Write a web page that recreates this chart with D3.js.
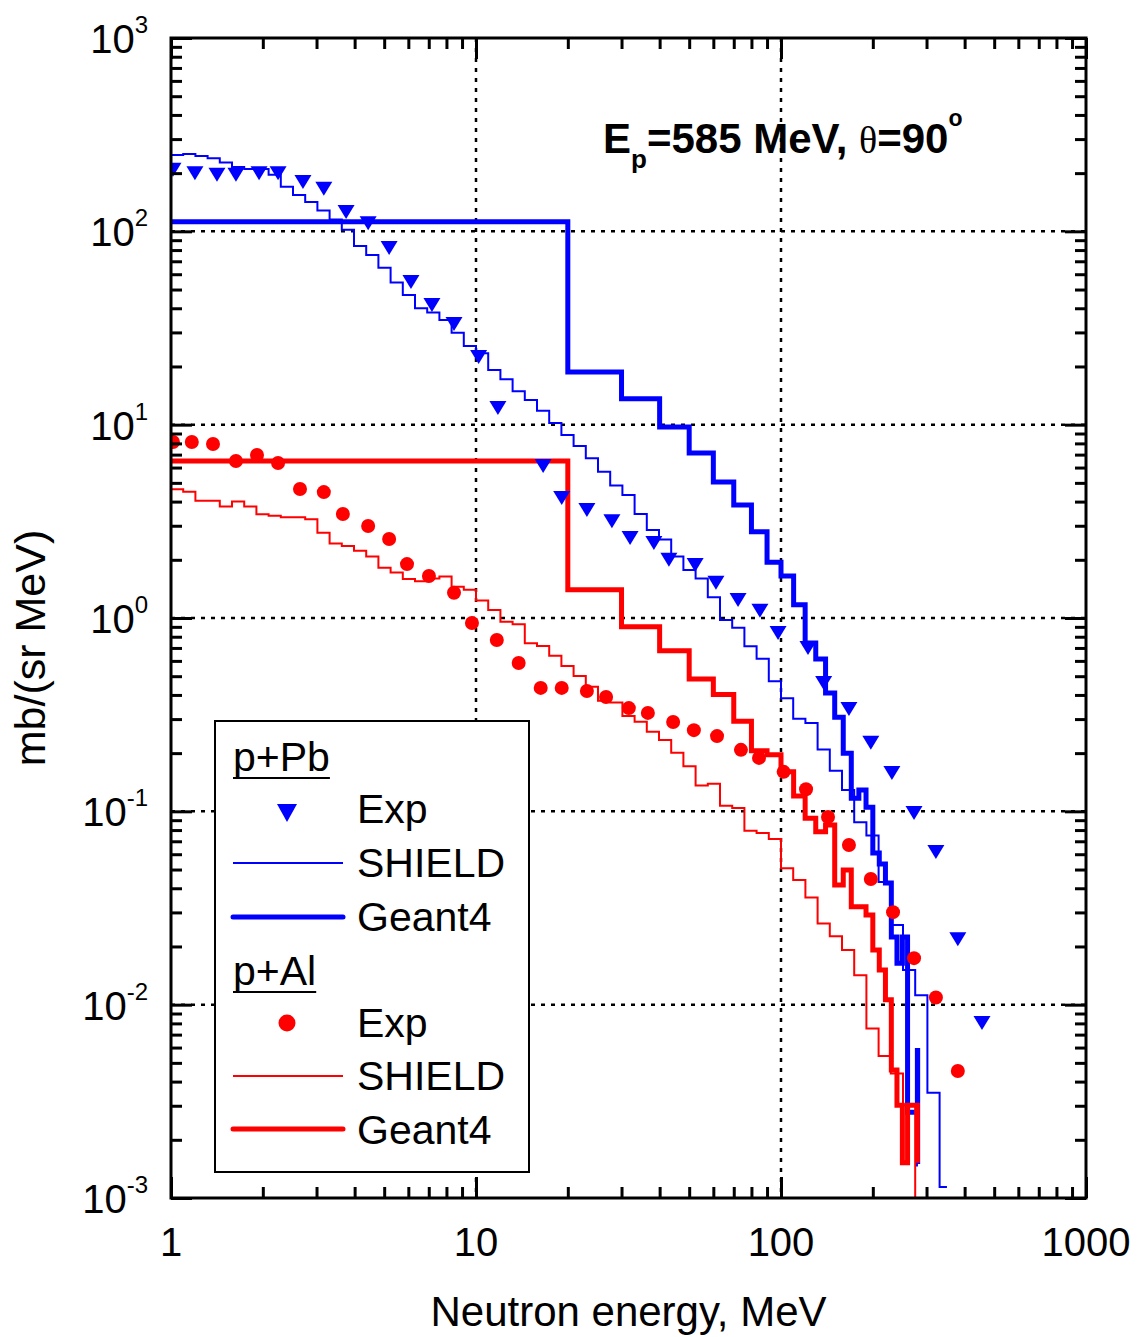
<!DOCTYPE html>
<html>
<head>
<meta charset="utf-8">
<script src="https://cdn.jsdelivr.net/npm/d3@7"></script>
<style>
  body { margin: 0; background: #fff; }
  text { font-family: "Liberation Sans", Arial, sans-serif; }
</style>
</head>
<body>
<svg></svg>
<script>
// SHIELD bin edges (MeV), 25 bins per decade
let shieldEdges = [1, 1.0965, 1.2023, 1.3183, 1.4454, 1.5849, 1.7378, 1.9055, 2.0893, 2.2909,
  2.5119, 2.7542, 3.02, 3.3113, 3.6308, 3.9811, 4.3652, 4.7863, 5.2481, 5.7544,
  6.3096, 6.9183, 7.5858, 8.3176, 9.1201, 10, 10.965, 12.023, 13.183, 14.454,
  15.849, 17.378, 19.055, 20.893, 22.909, 25.119, 27.542, 30.2, 33.113, 36.308,
  39.811, 43.652, 47.863, 52.481, 57.544, 63.096, 69.183, 75.858, 83.176, 91.201,
  100, 109.65, 120.23, 131.83, 144.54, 158.49, 173.78, 190.55, 208.93, 229.09,
  251.19, 275.42, 302.0, 331.13]
let pbShieldEnd = 350
let alShieldEnd = 275.42

let pbShield = [248, 251, 245, 239, 227, 215, 210, 210, 196, 170,
  154, 142, 128, 115, 102, 84.0, 75.5, 64.9, 54.3, 46.9,
  40.0, 38.0, 34.8, 29.9, 25.5, 23.4, 19.2, 17.2, 14.9, 13.4,
  11.8, 10.2, 8.85, 7.76, 6.70, 5.71, 4.84, 4.33, 3.45, 2.85,
  2.55, 2.08, 1.77, 1.60, 1.28, 0.976, 0.890, 0.714, 0.615, 0.471,
  0.384, 0.301, 0.286, 0.209, 0.162, 0.129, 0.0878, 0.0749, 0.0431, 0.0258,
  0.0151, 0.0112, 0.0035, 0.00114]

let alShield = [4.63, 4.50, 4.04, 4.04, 3.77, 4.00, 3.77, 3.44, 3.38, 3.32,
  3.32, 3.24, 2.76, 2.43, 2.36, 2.23, 2.08, 1.82, 1.72, 1.59,
  1.55, 1.60, 1.64, 1.45, 1.40, 1.23, 1.10, 0.957, 0.928, 0.740,
  0.716, 0.638, 0.565, 0.501, 0.441, 0.373, 0.365, 0.311, 0.291, 0.258,
  0.234, 0.201, 0.171, 0.136, 0.139, 0.107, 0.104, 0.0793, 0.0772, 0.0719,
  0.0507, 0.0441, 0.0358, 0.0263, 0.0226, 0.0192, 0.0142, 0.00754, 0.00542, 0.00441,
  0.00302]

// Geant4 step points (value holds from this energy to the next one)
let pbG4E = [1, 20, 30, 40, 50, 60, 70, 80, 90, 100, 110, 120, 130, 140, 150, 160, 170, 180, 190,
  200, 210, 220, 230, 240, 250, 260, 280, 280.6, 281.2]
let pbG4V = [112, 18.7, 13.6, 9.73, 7.14, 5.05, 3.84, 2.79, 1.94, 1.65, 1.17, 0.743, 0.614, 0.409,
  0.307, 0.200, 0.117, 0.129, 0.105, 0.0609, 0.0534, 0.0426, 0.0224, 0.0164, 0.0224, 0.00278,
  0.0058, 0.0015, 0.0015]

let alG4E = [1, 20, 30, 40, 50, 60, 70, 80, 90, 100, 110, 120, 130, 140, 150, 160, 170, 190,
  200, 210, 220, 230, 240, 250, 260, 280]
let alG4V = [6.49, 1.40, 0.902, 0.677, 0.484, 0.402, 0.292, 0.206, 0.196, 0.160, 0.120, 0.092,
  0.0784, 0.0849, 0.0416, 0.0497, 0.0321, 0.0291, 0.0192, 0.0151, 0.0106, 0.00459, 0.00302,
  0.00152, 0.00302, 0.00152]

// experimental points
let pbExpE = [1.015, 1.198, 1.415, 1.633, 1.944, 2.244, 2.708, 3.17, 3.75, 4.43,
  5.19, 6.12, 7.17, 8.47, 10.2, 11.8, 16.6, 19.1, 23.1, 27.9,
  32.0, 38.3, 42.9, 52.3, 61.2, 72.3, 85.3, 97.8, 122.6, 138,
  167, 197, 231, 273, 322, 380, 456]
let pbExpV = [208, 200, 196, 196, 200, 200, 180, 166, 126, 110,
  82, 54.7, 41.6, 33.2, 22.4, 12.2, 6.11, 4.18, 3.62, 3.17,
  2.59, 2.44, 2.0, 1.88, 1.52, 1.24, 1.09, 0.836, 0.699, 0.461,
  0.338, 0.226, 0.158, 0.098, 0.0616, 0.0218, 0.00803]

let alExpE = [1.015, 1.17, 1.373, 1.633, 1.914, 2.244, 2.648, 3.17, 3.66, 4.43,
  5.19, 5.94, 7.01, 8.47, 9.7, 11.7, 13.8, 16.3, 19.1, 23.1,
  26.7, 31.7, 36.6, 44.3, 51.8, 61.7, 73.9, 84.7, 102, 120.8,
  142.6, 167, 197, 233, 273, 322, 380]
let alExpV = [8.14, 8.14, 7.95, 6.49, 6.97, 6.34, 4.65, 4.48, 3.45, 2.99,
  2.56, 1.90, 1.65, 1.35, 0.942, 0.77, 0.585, 0.435, 0.435, 0.419,
  0.39, 0.342, 0.323, 0.29, 0.263, 0.245, 0.208, 0.189, 0.16, 0.130,
  0.0934, 0.067, 0.0447, 0.0301, 0.0174, 0.0109, 0.00454]

let xTickLabels = ["1", "10", "100", "1000"]
let yTickExps = ["3", "2", "1", "0", "-1", "-2", "-3"]

let width = 1138
let height = 1337
let plotLeft = 171, plotRight = 1086, plotTop = 38, plotBottom = 1198

let svg = d3.select("svg").attr("width", width).attr("height", height)

let xScale = d3.scaleLog().domain([1, 1000]).range([plotLeft, plotRight])
let yScale = d3.scaleLog().domain([1e-3, 1e3]).range([plotBottom, plotTop])

svg.append("defs").append("clipPath").attr("id", "plot-clip")
   .append("rect")
   .attr("x", plotLeft).attr("y", plotTop)
   .attr("width", plotRight - plotLeft).attr("height", plotBottom - plotTop)

// dotted grid at inner decades
let gridX = [10, 100]
let gridY = [1e-2, 1e-1, 1, 10, 100]
let grid = svg.append("g").attr("stroke", "#000").attr("stroke-width", 2.5).attr("stroke-dasharray", "4,6")
grid.selectAll(".gx").data(gridX).enter().append("line")
    .attr("x1", d => xScale(d)).attr("x2", d => xScale(d))
    .attr("y1", plotTop).attr("y2", plotBottom)
grid.selectAll(".gy").data(gridY).enter().append("line")
    .attr("x1", plotLeft).attr("x2", plotRight)
    .attr("y1", d => yScale(d)).attr("y2", d => yScale(d))

let stepLine = d3.line()
                 .x(d => xScale(d[0]))
                 .y(d => yScale(d[1]))
                 .curve(d3.curveStepAfter)

let pbShieldPts = shieldEdges.map((e, i) => [e, pbShield[i]])
pbShieldPts.push([pbShieldEnd, pbShield[pbShield.length - 1]])
let alShieldPts = alShield.map((v, i) => [shieldEdges[i], v])
alShieldPts.push([alShieldEnd, 1e-5])
let pbG4Pts = pbG4E.map((e, i) => [e, pbG4V[i]])
let alG4Pts = alG4E.map((e, i) => [e, alG4V[i]])

let plot = svg.append("g").attr("clip-path", "url(#plot-clip)")

let drawStep = (pts, color, w) => {
  plot.append("path")
      .attr("d", stepLine(pts))
      .attr("fill", "none")
      .attr("stroke", color)
      .attr("stroke-width", w)
}

drawStep(pbShieldPts, "#0000ff", 2)
drawStep(pbG4Pts, "#0000ff", 5)
drawStep(alShieldPts, "#ff0000", 2)
drawStep(alG4Pts, "#ff0000", 5)

let triPath = (w, h) => `M${-w / 2},${-h / 2}L${w / 2},${-h / 2}L0,${h / 2}Z`

plot.selectAll(".tri")
    .data(pbExpE.map((e, i) => [e, pbExpV[i]]))
    .enter()
    .append("path")
    .attr("d", triPath(17, 14))
    .attr("transform", d => `translate(${xScale(d[0])},${yScale(d[1])})`)
    .attr("fill", "#0000ff")

plot.selectAll(".dot")
    .data(alExpE.map((e, i) => [e, alExpV[i]]))
    .enter()
    .append("circle")
    .attr("cx", d => xScale(d[0]))
    .attr("cy", d => yScale(d[1]))
    .attr("r", 7)
    .attr("fill", "#ff0000")

// inward ticks on all four sides
let isDecade = d => Math.abs(Math.log10(d) - Math.round(Math.log10(d))) < 1e-9
let xAll = xScale.ticks()
let xMajor = xAll.filter(isDecade)
let xMinor = xAll.filter(d => !isDecade(d))
let yAll = yScale.ticks()
let yMajor = yAll.filter(isDecade)
let yMinor = yAll.filter(d => !isDecade(d))

let addAxis = (axis, tx, ty) => {
  let g = svg.append("g")
     .attr("transform", `translate(${tx},${ty})`)
     .call(axis)
  g.select(".domain").remove()
  g.selectAll("line").attr("stroke", "#000").attr("stroke-width", 3)
}

addAxis(d3.axisBottom(xScale).tickValues(xMajor).tickSize(-21).tickFormat(""), 0, plotBottom)
addAxis(d3.axisBottom(xScale).tickValues(xMinor).tickSize(-11).tickFormat(""), 0, plotBottom)
addAxis(d3.axisTop(xScale).tickValues(xMajor).tickSize(-21).tickFormat(""), 0, plotTop)
addAxis(d3.axisTop(xScale).tickValues(xMinor).tickSize(-11).tickFormat(""), 0, plotTop)
addAxis(d3.axisLeft(yScale).tickValues(yMajor).tickSize(-21).tickFormat(""), plotLeft, 0)
addAxis(d3.axisLeft(yScale).tickValues(yMinor).tickSize(-11).tickFormat(""), plotLeft, 0)
addAxis(d3.axisRight(yScale).tickValues(yMajor).tickSize(-21).tickFormat(""), plotRight, 0)
addAxis(d3.axisRight(yScale).tickValues(yMinor).tickSize(-11).tickFormat(""), plotRight, 0)

svg.append("rect")
   .attr("x", plotLeft).attr("y", plotTop)
   .attr("width", plotRight - plotLeft).attr("height", plotBottom - plotTop)
   .attr("fill", "none").attr("stroke", "#000").attr("stroke-width", 3)

// tick labels
svg.selectAll(".xlab")
   .data(xTickLabels)
   .enter()
   .append("text")
   .attr("x", d => xScale(+d))
   .attr("y", 1256)
   .attr("text-anchor", "middle")
   .attr("font-size", 40)
   .text(d => d)

yTickExps.forEach(p => {
  let t = svg.append("text")
             .attr("x", 148)
             .attr("y", yScale(Math.pow(10, +p)) + 15)
             .attr("text-anchor", "end")
             .attr("font-size", 40)
  t.append("tspan").text("10")
  t.append("tspan").attr("font-size", 24).attr("dy", -20).text(p)
})

// axis titles
svg.append("text")
   .attr("x", (plotLeft + plotRight) / 2)
   .attr("y", 1326)
   .attr("text-anchor", "middle")
   .attr("font-size", 42)
   .text("Neutron energy, MeV")

svg.append("text")
   .attr("transform", "translate(45,648) rotate(-90)")
   .attr("text-anchor", "middle")
   .attr("font-size", 43)
   .text("mb/(sr MeV)")

// title
let title = svg.append("text")
               .attr("x", 603)
               .attr("y", 153)
               .attr("font-size", 42)
               .attr("font-weight", "bold")
title.append("tspan").text("E")
title.append("tspan").attr("font-size", 26).attr("dy", 15).text("p")
title.append("tspan").attr("dy", -15).text("=585 MeV, ")
title.append("tspan").attr("font-family", "Liberation Serif").attr("font-weight", "normal").attr("font-size", 38).text("θ")
title.append("tspan").text("=90")
title.append("tspan").attr("font-size", 23).attr("dy", -27).text("o")

// legend
let legend = svg.append("g")
legend.append("rect")
      .attr("x", 215).attr("y", 721)
      .attr("width", 314).attr("height", 451)
      .attr("fill", "#fff").attr("stroke", "#000").attr("stroke-width", 2)

let legendHeader = (label, y) => {
  let t = legend.append("text").attr("x", 233).attr("y", y).attr("font-size", 41).text(label)
  let w = t.node().getComputedTextLength()
  legend.append("line")
        .attr("x1", 233).attr("x2", 233 + w)
        .attr("y1", y + 7).attr("y2", y + 7)
        .attr("stroke", "#000").attr("stroke-width", 2)
}
let legendLabel = (label, y) => {
  legend.append("text").attr("x", 357).attr("y", y).attr("font-size", 41).text(label)
}
let legendLine = (y, color, w) => {
  legend.append("line")
        .attr("x1", 233).attr("x2", 343)
        .attr("y1", y).attr("y2", y)
        .attr("stroke", color).attr("stroke-width", w)
        .attr("stroke-linecap", w > 3 ? "round" : "butt")
}

legendHeader("p+Pb", 771)
legend.append("path").attr("d", triPath(20, 18)).attr("transform", "translate(287,813)").attr("fill", "#0000ff")
legendLabel("Exp", 823)
legendLine(863, "#0000ff", 2)
legendLabel("SHIELD", 877)
legendLine(917, "#0000ff", 5)
legendLabel("Geant4", 931)

legendHeader("p+Al", 985)
legend.append("circle").attr("cx", 287).attr("cy", 1023).attr("r", 8.5).attr("fill", "#ff0000")
legendLabel("Exp", 1037)
legendLine(1076, "#ff0000", 2)
legendLabel("SHIELD", 1090)
legendLine(1129, "#ff0000", 5)
legendLabel("Geant4", 1144)
</script>
</body>
</html>
